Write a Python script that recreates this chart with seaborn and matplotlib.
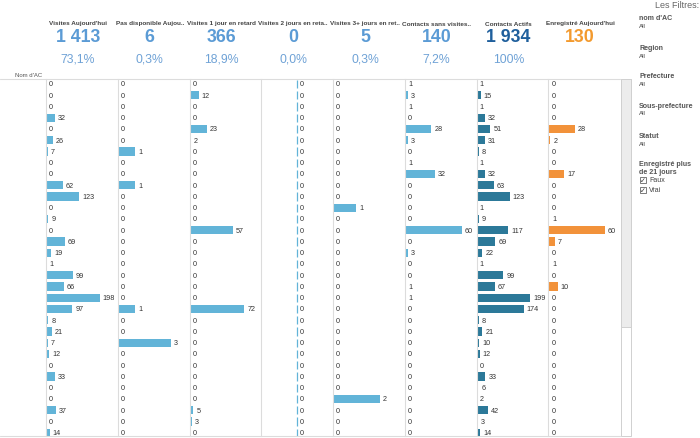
import pandas as pd
import matplotlib.pyplot as plt
import matplotlib.patches as mpatches
import matplotlib.lines as mlines
import seaborn as sns

# --- data ---
kpi_titles = ["Visites Aujourd'hui", "Pas disponible Aujou..", "Visites 1 jour en retard",
              "Visites 2 jours en reta..", "Visites 3+ jours en ret..", "Contacts sans visites..",
              "Contacts Actifs", "Enregistré Aujourd'hui"]
kpi_totals = ["1 413", "6", "366", "0", "5", "140", "1 934", "130"]
kpi_pcts = ["73,1%", "0,3%", "18,9%", "0,0%", "0,3%", "7,2%", "100%", ""]

visites_auj = [0, 0, 0, 32, 0, 26, 7, 0, 0, 62, 123, 0, 9, 0, 69, 19,
               1, 99, 66, 198, 97, 8, 21, 7, 12, 0, 33, 0, 0, 37, 0, 14]
pas_dispo = [0, 0, 0, 0, 0, 0, 1, 0, 0, 1, 0, 0, 0, 0, 0, 0,
             0, 0, 0, 0, 1, 0, 0, 3, 0, 0, 0, 0, 0, 0, 0, 0]
retard_1j = [0, 12, 0, 0, 23, 2, 0, 0, 0, 0, 0, 0, 0, 57, 0, 0,
             0, 0, 0, 0, 72, 0, 0, 0, 0, 0, 0, 0, 0, 5, 3, 0]
retard_2j = [0] * 32
retard_3j = [0, 0, 0, 0, 0, 0, 0, 0, 0, 0, 0, 1, 0, 0, 0, 0,
             0, 0, 0, 0, 0, 0, 0, 0, 0, 0, 0, 0, 2, 0, 0, 0]
sans_visites = [1, 3, 1, 0, 28, 3, 0, 1, 32, 0, 0, 0, 0, 60, 0, 3,
                0, 0, 1, 1, 0, 0, 0, 0, 0, 0, 0, 0, 0, 0, 0, 0]
actifs = [1, 15, 1, 32, 51, 31, 8, 1, 32, 63, 123, 1, 9, 117, 69, 22,
          1, 99, 67, 199, 174, 8, 21, 10, 12, 0, 33, 6, 2, 42, 3, 14]
enregistre = [0, 0, 0, 0, 28, 2, 0, 0, 17, 0, 0, 0, 1, 60, 7, 0,
              1, 0, 10, 0, 0, 0, 0, 0, 0, 0, 0, 0, 0, 0, 0, 0]

noms_ac = [f"AC{i + 1:02d}" for i in range(32)]

filters = ["nom d'AC", "Region", "Prefecture", "Sous-prefecture", "Statut"]
checks = ["Faux", "Vrai"]

series = [visites_auj, pas_dispo, retard_1j, retard_2j, retard_3j, sans_visites, actifs, enregistre]

# --- style ---
LIGHT = "#62b4d8"
DARK = "#2c7999"
ORANGE = "#f2923a"
bar_colors = [LIGHT, LIGHT, LIGHT, LIGHT, LIGHT, LIGHT, DARK, ORANGE]
num_colors = ["#5b9bd5"] * 6 + ["#1f5f9c", "#f39a2e"]
pct_color = "#6fa2d6"
x_max = [264, 4.08, 94, 1, 3.06, 75.8, 265, 75.8]

sns.set_theme(style="white")
plt.rcParams['font.family'] = ['Liberation Sans', 'DejaVu Sans']

W, H = 700, 439
fig = plt.figure(figsize=(W / 100, H / 100), dpi=100)

pane_w = 71.75
top_px, bot_px = 80, 437
row0, step = 85, 11.25

for i, vals in enumerate(series):
    left = 46 + i * pane_w
    ax = fig.add_axes([left / W, 1 - bot_px / H, pane_w / W, (bot_px - top_px) / H])
    ax.set_facecolor('none')
    df = pd.DataFrame({'nom': noms_ac, 'val': vals})
    sns.barplot(data=df, x='val', y='nom', orient='h', color=bar_colors[i],
                width=0.72, saturation=1, ax=ax,
                edgecolor=bar_colors[i] if i == 3 else 'none', linewidth=0.9 if i == 3 else 0)
    for t in ax.bar_label(ax.containers[0], fmt='%d', padding=2.2, fontsize=5.2, color='#333333'):
        t.set_clip_on(False)
        t.set_zorder(10)
    if i == 3:
        ax.set_xlim(-1, 1)
    else:
        ax.set_xlim(0, x_max[i])
    ax.set_ylim((bot_px - row0) / step, (top_px - row0) / step)
    ax.set_xlabel('')
    ax.set_ylabel('')
    ax.set_xticks([])
    ax.set_yticks([])
    for s in ['top', 'right', 'bottom']:
        ax.spines[s].set_visible(False)
    ax.spines['left'].set_color('#dcdcdc')
    ax.spines['left'].set_linewidth(0.8)

    cx = (left + 32) / W
    fig.text(cx, 1 - 24 / H, kpi_titles[i], ha='center', va='center', fontsize=4.6,
             fontweight='bold', color='#444444')
    fig.text(cx, 1 - 38 / H, kpi_totals[i], ha='center', va='center', fontsize=12.8,
             fontweight='bold', color=num_colors[i])
    if kpi_pcts[i]:
        fig.text(cx, 1 - 60 / H, kpi_pcts[i], ha='center', va='center', fontsize=8.8,
                 color=pct_color)

# header / footer lines
fig.add_artist(mlines.Line2D([0, 620 / W], [1 - 80 / H] * 2, color='#dcdcdc', lw=0.8))
fig.add_artist(mlines.Line2D([0, 620 / W], [1 - 437 / H] * 2, color='#dcdcdc', lw=0.8))
fig.text(15 / W, 1 - 78 / H, "Nom d'AC", fontsize=4.3, color='#555555', va='bottom')

# scrollbar
fig.add_artist(mpatches.Rectangle((621 / W, 1 - 437 / H), 10 / W, 357 / H,
                                  facecolor='white', edgecolor='#d0d0d0', lw=0.7))
fig.add_artist(mpatches.Rectangle((621 / W, 1 - 328 / H), 10 / W, 248 / H,
                                  facecolor='#ececec', edgecolor='#d0d0d0', lw=0.7))

# filter panel
fig.text(699 / W, 1 - 5 / H, "Les Filtres:", ha='right', va='center', fontsize=6.5, color='#666666')
fy = [19, 48, 77, 106, 136]
for name, y in zip(filters, fy):
    fig.text(639 / W, 1 - y / H, name, ha='left', va='center', fontsize=5.1,
             fontweight='bold', color='#555555')
    fig.text(639 / W, 1 - (y + 8) / H, "All", ha='left', va='center', fontsize=4.5, color='#444444')
fig.text(639 / W, 1 - 164 / H, "Enregistré plus", ha='left', va='center', fontsize=5.1,
         fontweight='bold', color='#555555')
fig.text(639 / W, 1 - 173 / H, "de 21 jours", ha='left', va='center', fontsize=5.1,
         fontweight='bold', color='#555555')
for lab, y in zip(checks, [181, 191]):
    fig.add_artist(mpatches.Rectangle((640 / W, 1 - (y + 3) / H), 6 / W, 6 / H,
                                      facecolor='white', edgecolor='#666666', lw=0.6))
    fig.text(643 / W, 1 - y / H, "✓", ha='center', va='center', fontsize=5,
             color='#333333', family='DejaVu Sans')
    fig.text(649 / W, 1 - y / H, lab, ha='left', va='center', fontsize=5.0, color='#444444')

fig.savefig('out.png', dpi=100, facecolor='white')
